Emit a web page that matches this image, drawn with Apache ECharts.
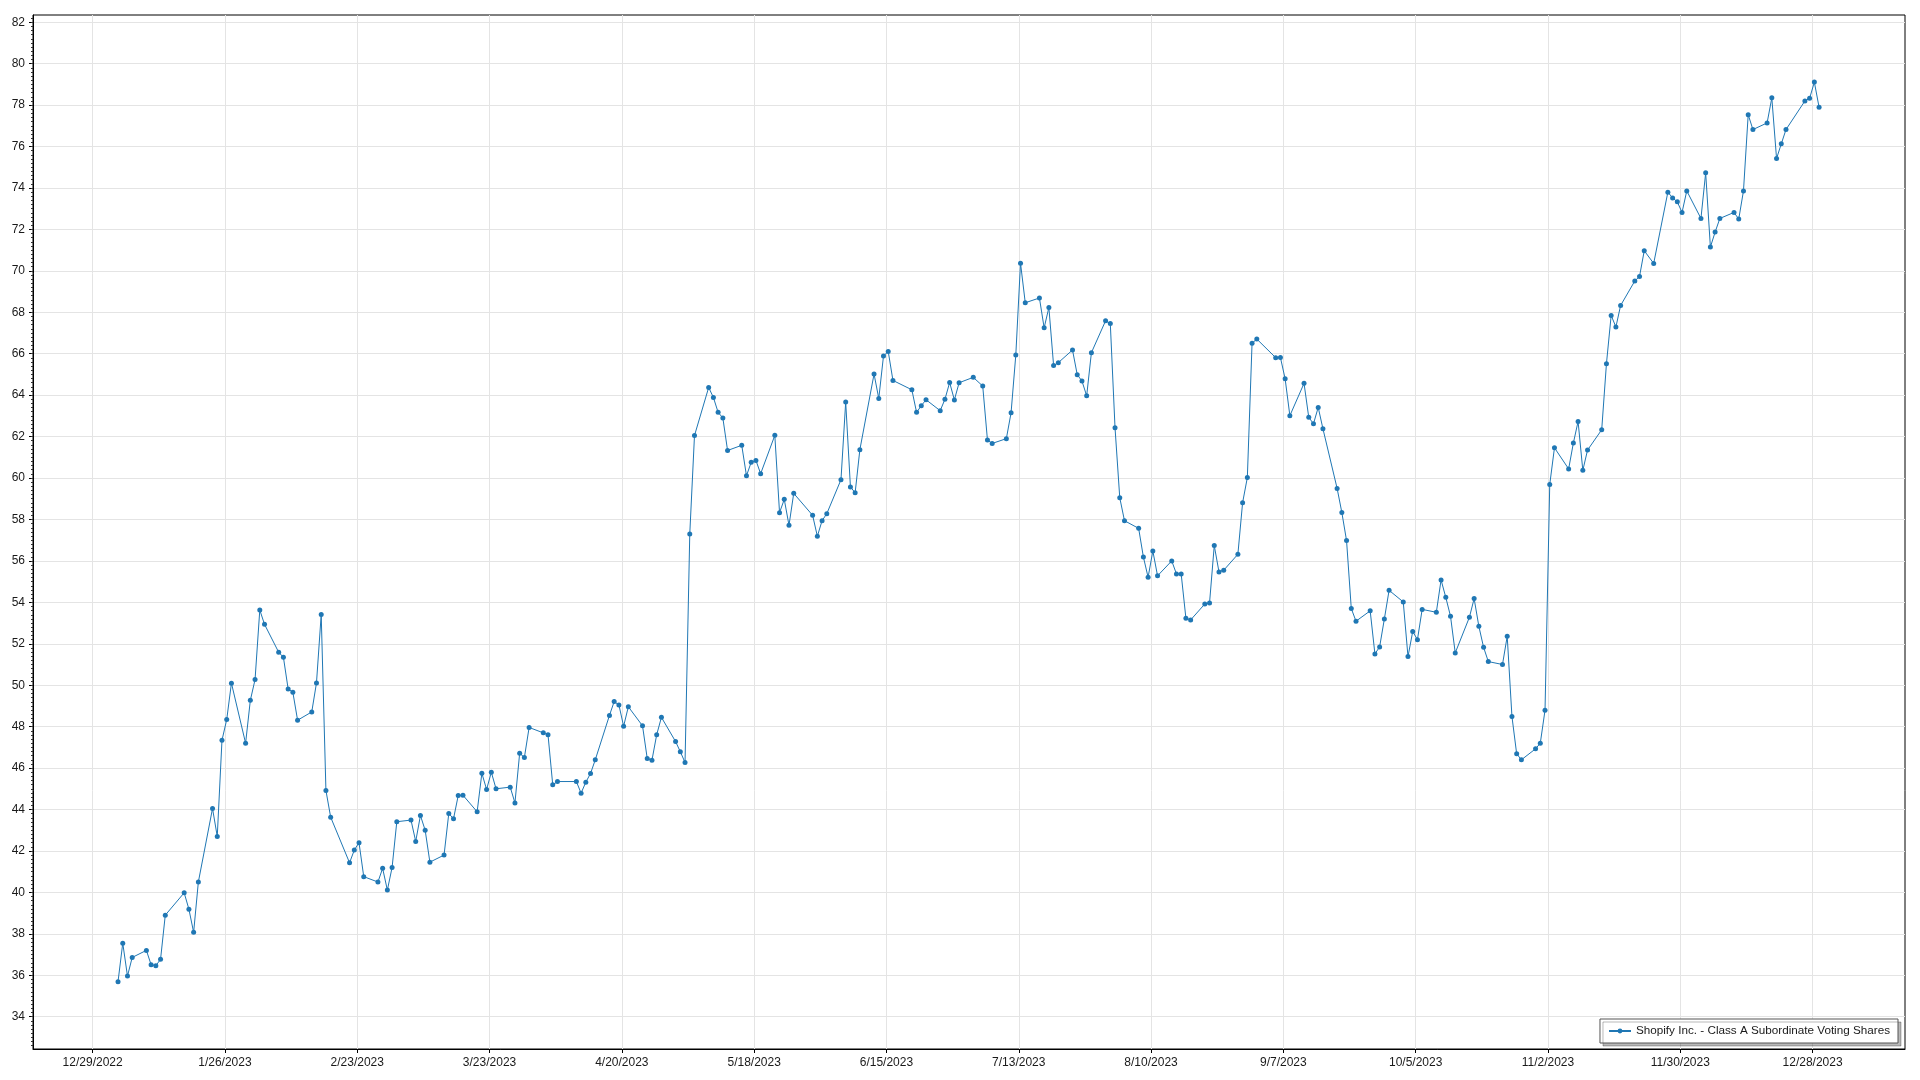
<!DOCTYPE html>
<html>
<head>
<meta charset="utf-8">
<title>Shopify Inc. - Class A Subordinate Voting Shares</title>
<script src="https://cdn.jsdelivr.net/npm/echarts@6/dist/echarts.min.js"></script>
<style>
html, body { margin: 0; padding: 0; background: #ffffff; }
#chart { width: 1920px; height: 1080px; }
</style>
</head>
<body>
<div id="chart"></div>
<script>
// ---- Data ----
const seriesName = 'Shopify Inc. - Class A Subordinate Voting Shares';

const dates = [
  '2023-01-03','2023-01-04','2023-01-05','2023-01-06','2023-01-09','2023-01-10','2023-01-11','2023-01-12','2023-01-13','2023-01-17','2023-01-18','2023-01-19','2023-01-20','2023-01-23','2023-01-24','2023-01-25','2023-01-26','2023-01-27','2023-01-30','2023-01-31',
  '2023-02-01','2023-02-02','2023-02-03','2023-02-06','2023-02-07','2023-02-08','2023-02-09','2023-02-10','2023-02-13','2023-02-14','2023-02-15','2023-02-16','2023-02-17','2023-02-21','2023-02-22','2023-02-23','2023-02-24','2023-02-27','2023-02-28',
  '2023-03-01','2023-03-02','2023-03-03','2023-03-06','2023-03-07','2023-03-08','2023-03-09','2023-03-10','2023-03-13','2023-03-14','2023-03-15','2023-03-16','2023-03-17','2023-03-20','2023-03-21','2023-03-22','2023-03-23','2023-03-24','2023-03-27','2023-03-28','2023-03-29','2023-03-30','2023-03-31',
  '2023-04-03','2023-04-04','2023-04-05','2023-04-06','2023-04-10','2023-04-11','2023-04-12','2023-04-13','2023-04-14','2023-04-17','2023-04-18','2023-04-19','2023-04-20','2023-04-21','2023-04-24','2023-04-25','2023-04-26','2023-04-27','2023-04-28',
  '2023-05-01','2023-05-02','2023-05-03','2023-05-04','2023-05-05','2023-05-08','2023-05-09','2023-05-10','2023-05-11','2023-05-12','2023-05-15','2023-05-16','2023-05-17','2023-05-18','2023-05-19','2023-05-22','2023-05-23','2023-05-24','2023-05-25','2023-05-26','2023-05-30','2023-05-31',
  '2023-06-01','2023-06-02','2023-06-05','2023-06-06','2023-06-07','2023-06-08','2023-06-09','2023-06-12','2023-06-13','2023-06-14','2023-06-15','2023-06-16','2023-06-20','2023-06-21','2023-06-22','2023-06-23','2023-06-26','2023-06-27','2023-06-28','2023-06-29','2023-06-30',
  '2023-07-03','2023-07-05','2023-07-06','2023-07-07','2023-07-10','2023-07-11','2023-07-12','2023-07-13','2023-07-14','2023-07-17','2023-07-18','2023-07-19','2023-07-20','2023-07-21','2023-07-24','2023-07-25','2023-07-26','2023-07-27','2023-07-28','2023-07-31',
  '2023-08-01','2023-08-02','2023-08-03','2023-08-04','2023-08-07','2023-08-08','2023-08-09','2023-08-10','2023-08-11','2023-08-14','2023-08-15','2023-08-16','2023-08-17','2023-08-18','2023-08-21','2023-08-22','2023-08-23','2023-08-24','2023-08-25','2023-08-28','2023-08-29','2023-08-30','2023-08-31',
  '2023-09-01','2023-09-05','2023-09-06','2023-09-07','2023-09-08','2023-09-11','2023-09-12','2023-09-13','2023-09-14','2023-09-15','2023-09-18','2023-09-19','2023-09-20','2023-09-21','2023-09-22','2023-09-25','2023-09-26','2023-09-27','2023-09-28','2023-09-29',
  '2023-10-02','2023-10-03','2023-10-04','2023-10-05','2023-10-06','2023-10-09','2023-10-10','2023-10-11','2023-10-12','2023-10-13','2023-10-16','2023-10-17','2023-10-18','2023-10-19','2023-10-20','2023-10-23','2023-10-24','2023-10-25','2023-10-26','2023-10-27','2023-10-30','2023-10-31',
  '2023-11-01','2023-11-02','2023-11-03','2023-11-06','2023-11-07','2023-11-08','2023-11-09','2023-11-10','2023-11-13','2023-11-14','2023-11-15','2023-11-16','2023-11-17','2023-11-20','2023-11-21','2023-11-22','2023-11-24','2023-11-27','2023-11-28','2023-11-29','2023-11-30',
  '2023-12-01','2023-12-04','2023-12-05','2023-12-06','2023-12-07','2023-12-08','2023-12-11','2023-12-12','2023-12-13','2023-12-14','2023-12-15','2023-12-18','2023-12-19','2023-12-20','2023-12-21','2023-12-22','2023-12-26','2023-12-27','2023-12-28','2023-12-29'
];

const closes = [
  35.69,37.55,35.96,36.86,37.20,36.51,36.46,36.77,38.90,39.98,39.19,38.07,40.50,44.05,42.70,47.34,48.34,50.10,47.20,49.27,
  50.27,53.63,52.94,51.59,51.35,49.82,49.66,48.31,48.71,50.11,53.41,44.92,43.63,41.43,42.04,42.40,40.76,40.50,41.16,
  40.11,41.20,43.41,43.49,42.46,43.71,43.00,41.46,41.80,43.81,43.55,44.68,44.69,43.89,45.75,44.97,45.80,45.00,45.08,44.32,46.72,46.51,47.96,
  47.70,47.61,45.19,45.35,45.35,44.79,45.32,45.74,46.40,48.54,49.21,49.05,48.02,48.96,48.04,46.46,46.38,47.61,48.45,
  47.28,46.79,46.27,57.30,62.05,64.37,63.89,63.17,62.90,61.33,61.58,60.11,60.76,60.85,60.21,62.06,58.33,58.97,57.72,59.26,58.20,57.19,
  57.94,58.28,59.92,63.67,59.57,59.29,61.37,65.02,63.84,65.89,66.11,64.71,64.26,63.17,63.49,63.78,63.25,63.80,64.61,63.77,64.60,
  64.86,64.44,61.84,61.67,61.90,63.15,65.94,70.37,68.46,68.69,67.25,68.23,65.43,65.57,66.18,64.99,64.68,63.97,66.05,67.59,
  67.46,62.43,59.05,57.94,57.57,56.19,55.21,56.48,55.28,56.00,55.37,55.37,53.23,53.15,53.92,53.97,56.74,55.47,55.55,56.32,58.81,60.02,66.50,
  66.71,65.81,65.82,64.79,63.01,64.57,62.93,62.62,63.41,62.38,59.50,58.34,56.98,53.70,53.09,53.59,51.51,51.85,53.20,54.58,
  54.02,51.38,52.59,52.20,53.66,53.52,55.08,54.24,53.33,51.56,53.28,54.18,52.84,51.83,51.14,51.00,52.36,48.49,46.69,46.40,46.93,47.20,
  48.79,59.69,61.46,60.44,61.69,62.73,60.37,61.35,62.33,65.52,67.85,67.29,68.33,69.51,69.73,70.97,70.36,73.80,73.52,73.33,72.82,
  73.86,72.53,74.73,71.15,71.87,72.53,72.82,72.50,73.86,77.54,76.82,77.14,78.35,75.42,76.13,76.82,78.20,78.33,79.11,77.90
];

const xTickLabels = ['12/29/2022','1/26/2023','2/23/2023','3/23/2023','4/20/2023','5/18/2023','6/15/2023',
                     '7/13/2023','8/10/2023','9/7/2023','10/5/2023','11/2/2023','11/30/2023','12/28/2023'];
const yTickValues = [34,36,38,40,42,44,46,48,50,52,54,56,58,60,62,64,66,68,70,72,74,76,78,80,82];

// ---- Helpers ----
const DAY = 86400000;
function parseMDY(s) { const p = s.split('/').map(Number); return Date.UTC(p[2], p[0] - 1, p[1]); }
function parseISO(s) { const p = s.split('-').map(Number); return Date.UTC(p[0], p[1] - 1, p[2]); }
function fmtMDY(v) { const d = new Date(v); return (d.getUTCMonth() + 1) + '/' + d.getUTCDate() + '/' + d.getUTCFullYear(); }

const xTickValues = xTickLabels.map(parseMDY);
const sampleOffset = 9 * 3600000; // points sit a little after the midnight ticks
const seriesData = dates.map((d, i) => [parseISO(d) + sampleOffset, closes[i]]);

const x0 = xTickValues[0];
const xMin = x0 - 12.62 * DAY;
const xMax = x0 + 383.56 * DAY;
const yMin = 32.44, yMax = 82.35;

// minor tick positions on the value axis (every 0.2)
const yMinorTicks = [];
for (let k = Math.ceil(yMin / 0.2); k * 0.2 <= yMax; k++) yMinorTicks.push(+(k * 0.2).toFixed(1));

const font = '"Liberation Sans", Arial, sans-serif';
const textColor = '#1a1a1a';
const lineColor = '#1f77b4';
const gridColor = '#e4e4e4';

const chart = echarts.init(document.getElementById('chart'), null, { renderer: 'canvas' });
chart.setOption({
  animation: false,
  backgroundColor: '#ffffff',
  grid: {
    left: 33, top: 15, width: 1872, height: 1034,
    show: true, borderColor: '#000000', borderWidth: 1, backgroundColor: 'transparent',
    containLabel: false
  },
  legend: {
    right: 22, bottom: 37,
    data: [seriesName],
    backgroundColor: '#ffffff',
    borderColor: '#555555', borderWidth: 1, borderRadius: 0,
    padding: [6, 8, 6, 8],
    itemWidth: 22, itemHeight: 6, itemGap: 6,
    shadowColor: 'rgba(0,0,0,0.28)', shadowBlur: 0, shadowOffsetX: 3, shadowOffsetY: 3,
    textStyle: { fontFamily: font, fontSize: 11.7, color: textColor }
  },
  xAxis: {
    type: 'value',
    min: xMin, max: xMax,
    axisLine: { show: true, onZero: false, lineStyle: { color: '#000000', width: 1 } },
    axisTick: { show: true, length: 4, customValues: xTickValues, lineStyle: { color: '#000000' } },
    axisLabel: {
      customValues: xTickValues, margin: 8,
      fontFamily: font, fontSize: 12, color: textColor,
      formatter: (v) => fmtMDY(v), hideOverlap: false
    },
    splitLine: { show: true, lineStyle: { color: gridColor, width: 1 } }
  },
  yAxis: [
    {
      type: 'value', position: 'left',
      min: yMin, max: yMax,
      axisLine: { show: true, onZero: false, lineStyle: { color: '#000000', width: 1 } },
      axisTick: { show: true, length: 4, customValues: yTickValues, lineStyle: { color: '#000000' } },
      axisLabel: { customValues: yTickValues, margin: 8, fontFamily: font, fontSize: 12, color: textColor },
      splitLine: { show: true, lineStyle: { color: gridColor, width: 1 } }
    },
    {
      type: 'value', position: 'left', offset: 0,
      min: yMin, max: yMax,
      axisLine: { show: false },
      axisTick: { show: true, length: 2, customValues: yMinorTicks, lineStyle: { color: '#333333' } },
      axisLabel: { show: false },
      splitLine: { show: false }
    }
  ],
  series: [{
    name: seriesName,
    type: 'line',
    yAxisIndex: 0,
    data: seriesData,
    showAllSymbol: true,
    symbol: 'circle',
    symbolSize: 5,
    lineStyle: { color: lineColor, width: 1 },
    itemStyle: { color: lineColor },
    emphasis: { disabled: true }
  }]
});
</script>
</body>
</html>
